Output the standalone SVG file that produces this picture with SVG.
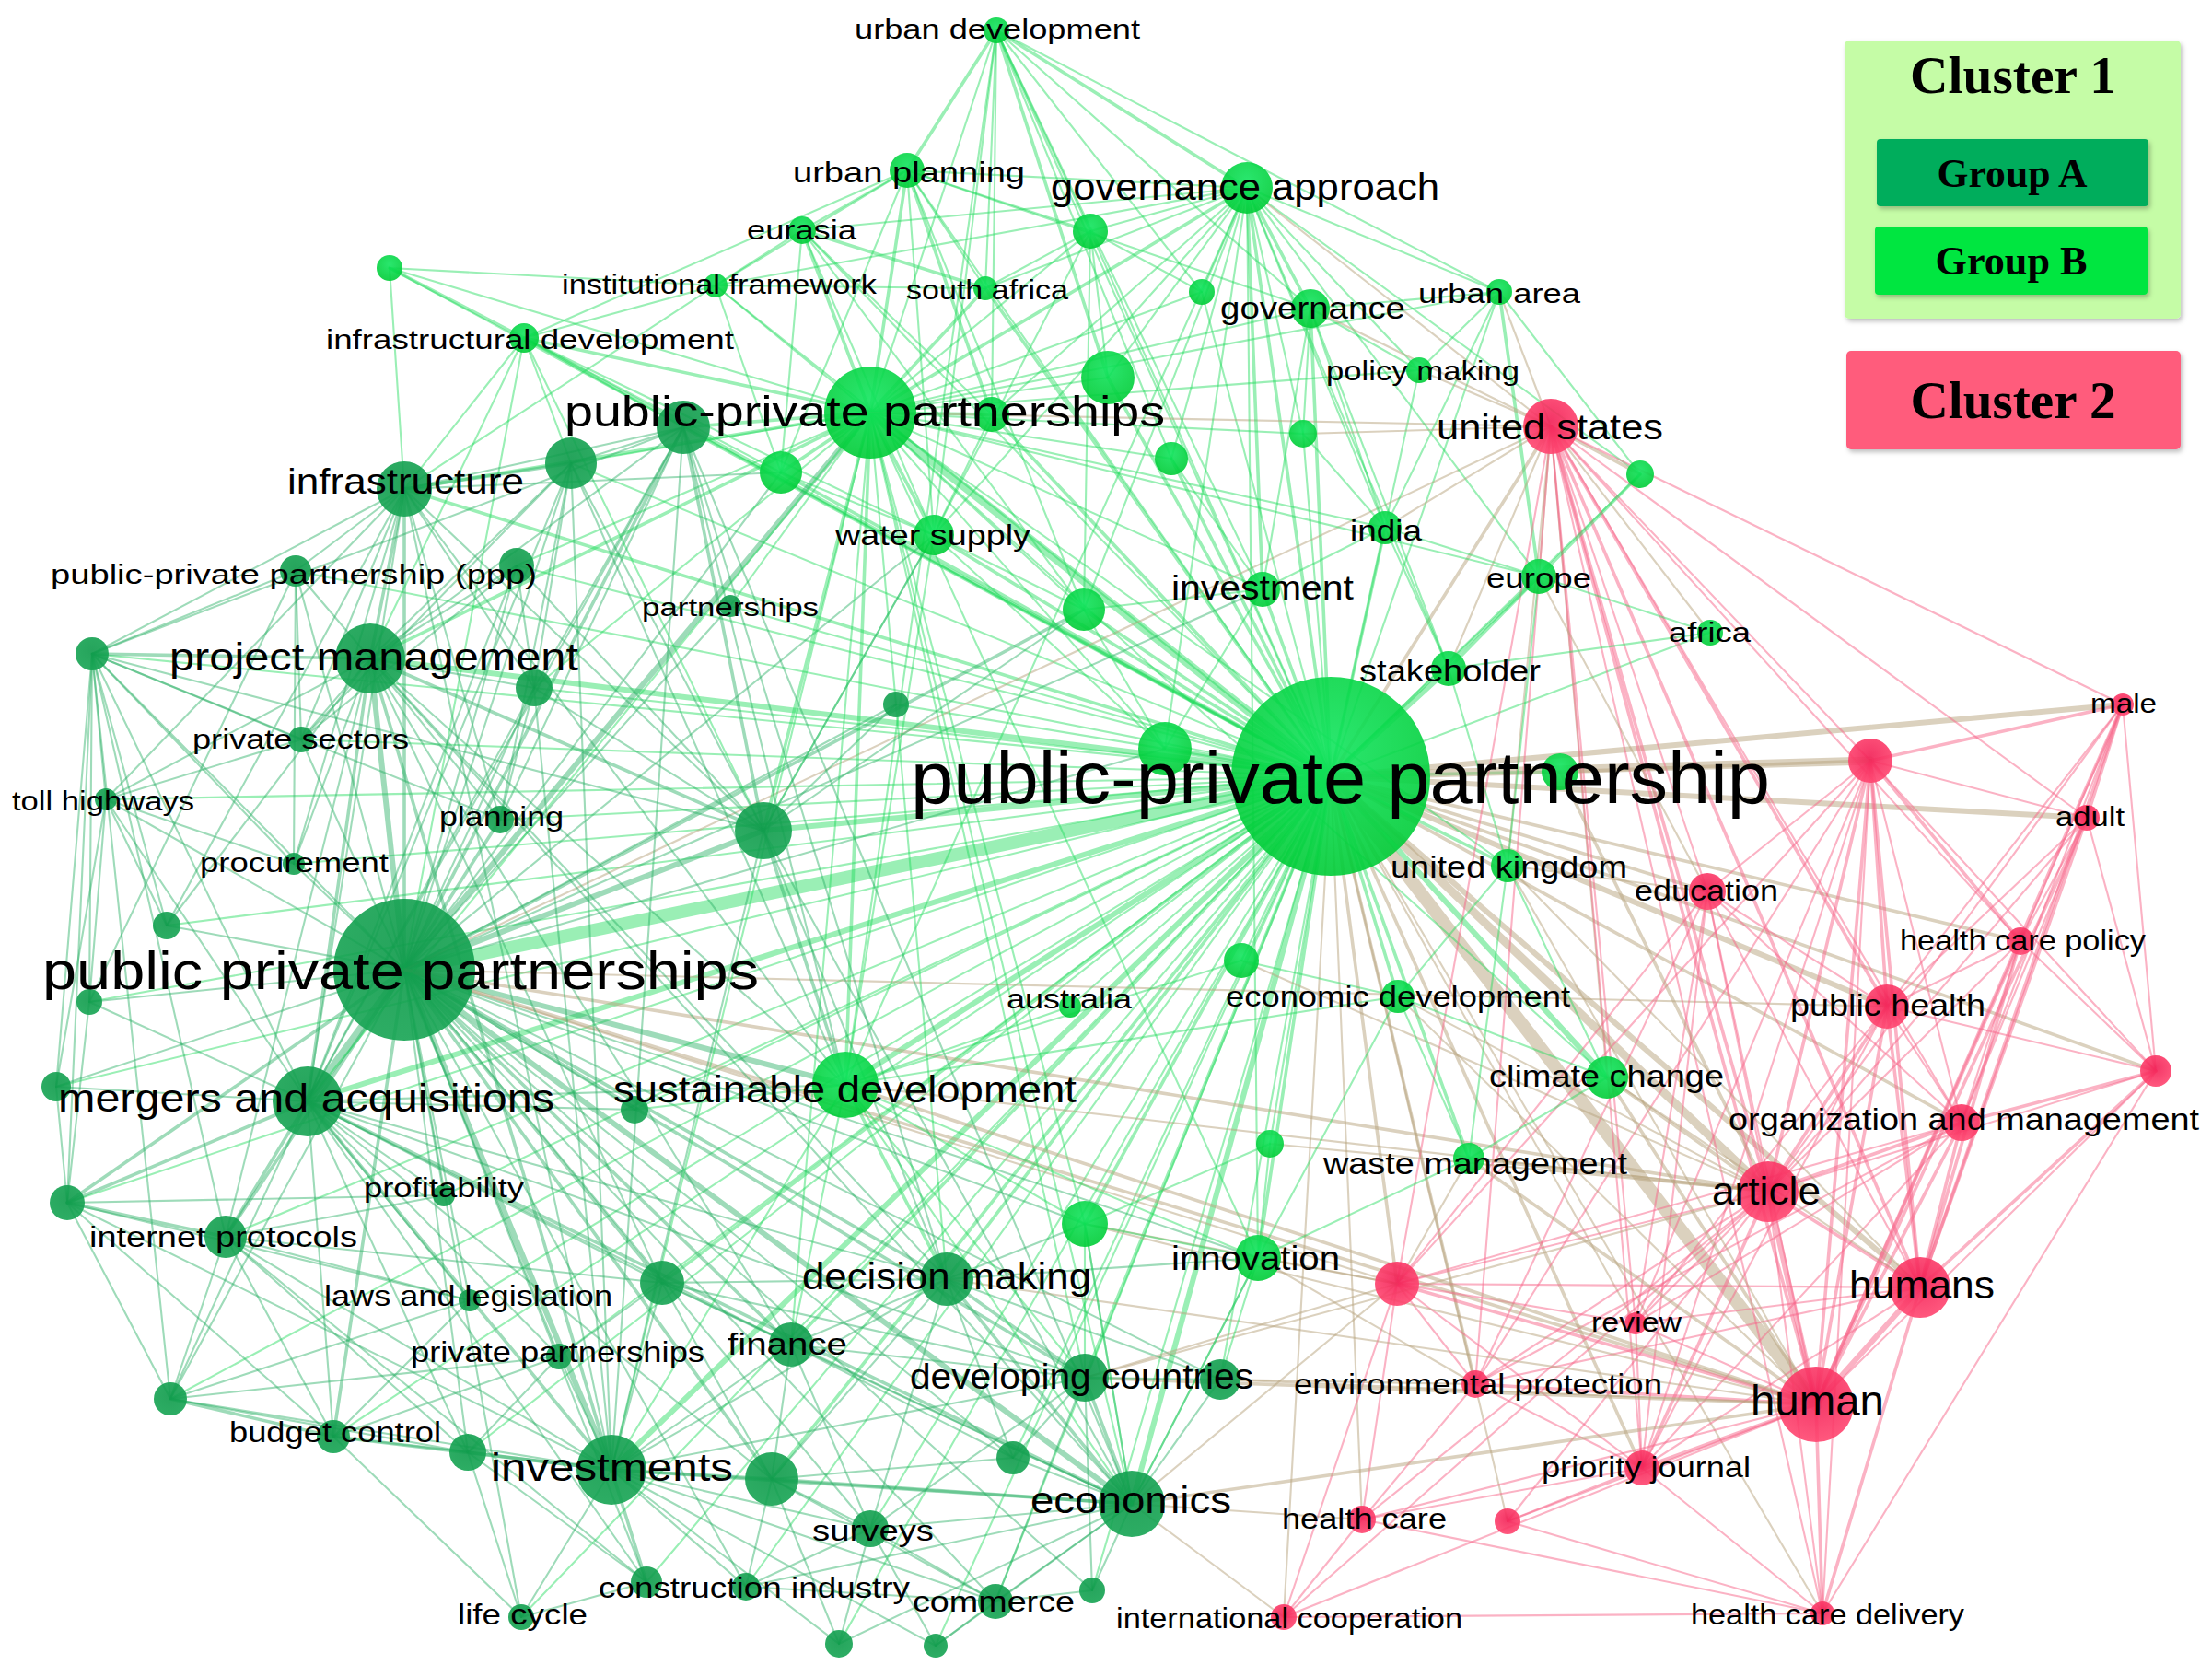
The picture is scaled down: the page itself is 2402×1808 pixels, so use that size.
<svg xmlns="http://www.w3.org/2000/svg" width="2402" height="1808" viewBox="0 0 2402 1808">
<style>
path{fill:none;stroke-linecap:round}
.g{stroke:#1edc5a;stroke-opacity:.45}
.d{stroke:#27b063;stroke-opacity:.45}
.r{stroke:#f76589;stroke-opacity:.5}
.m{stroke:#b8a47e;stroke-opacity:.5}
.w1{stroke-width:2.1}
.w2{stroke-width:3.6}
.w3{stroke-width:6}
.w4{stroke-width:9}
.w5{stroke-width:14}
.na{fill:url(#gA);fill-opacity:.9}
.nb{fill:url(#gB);fill-opacity:.9}
.nr{fill:url(#gR);fill-opacity:.9}
text{font-family:"Liberation Sans",Arial,Helvetica,sans-serif;fill:#000}
.lg{font-family:"Liberation Serif","Times New Roman",serif;font-weight:bold;text-anchor:middle}
</style>
<defs>
<radialGradient id="gA" cx="50%" cy="40%" r="60%"><stop offset="0" stop-color="#0e9a4a"/><stop offset="1" stop-color="#16a453"/></radialGradient>
<radialGradient id="gB" cx="50%" cy="35%" r="65%"><stop offset="0" stop-color="#12e45e"/><stop offset="1" stop-color="#00cc36"/></radialGradient>
<radialGradient id="gR" cx="50%" cy="40%" r="60%"><stop offset="0" stop-color="#f21f55"/><stop offset="1" stop-color="#ff4670"/></radialGradient>
<filter id="sh" x="-5%" y="-5%" width="112%" height="115%"><feDropShadow dx="2" dy="3" stdDeviation="2.5" flood-color="#000" flood-opacity=".25"/></filter>
</defs>
<rect width="2402" height="1808" fill="#fff"/>
<g id="connectors">
<path class="g w1" d="M1445 843L1082 33"/><path class="g w1" d="M1445 843L985 185"/><path class="g w2" d="M1445 843L1354 204"/><path class="g w1" d="M1445 843L871 250"/><path class="g w1" d="M1445 843L1184 251"/><path class="g w1" d="M1445 843L777 310"/><path class="g w2" d="M1445 843L1070 313"/><path class="g w1" d="M1445 843L1305 317"/><path class="g w2" d="M1445 843L1423 335"/><path class="g w1" d="M1445 843L1628 317"/><path class="g w1" d="M1445 843L423 291"/><path class="g w2" d="M1445 843L569 367"/><path class="g w1" d="M1445 843L1541 402"/><path class="g w4" d="M1445 843L945 448"/><path class="g w2" d="M1445 843L1203 410"/><path class="g w2" d="M1445 843L1077 450"/><path class="g w1" d="M1445 843L1415 471"/><path class="g w2" d="M1445 843L1272 498"/><path class="g w2" d="M1445 843L848 513"/><path class="g w2" d="M1445 843L1014 581"/><path class="g w2" d="M1445 843L1504 573"/><path class="g w1" d="M1445 843L1781 515"/><path class="g w2" d="M1445 843L1177 662"/><path class="g w2" d="M1445 843L1371 640"/><path class="g w2" d="M1445 843L1671 626"/><path class="g w1" d="M1445 843L1857 687"/><path class="g w3" d="M1445 843L1573 726"/><path class="g w3" d="M1445 843L1265 813"/><path class="g w2" d="M1445 843L1694 838"/><path class="g w2" d="M1445 843L1637 940"/><path class="g w1" d="M1445 843L1348 1043"/><path class="g w1" d="M1445 843L1162 1093"/><path class="g w2" d="M1445 843L1518 1082"/><path class="g w3" d="M1445 843L1745 1170"/><path class="g w3" d="M1445 843L918 1178"/><path class="g w1" d="M1445 843L1379 1242"/><path class="g w2" d="M1445 843L1595 1258"/><path class="g w2" d="M1445 843L1178 1329"/><path class="g w2" d="M1445 843L1366 1366"/><path class="g w1" d="M1445 843L793 658"/>
<path class="g w2" d="M1445 843L439 531"/><path class="g w1" d="M1445 843L620 503"/><path class="g w2" d="M1445 843L742 464"/><path class="g w1" d="M1445 843L321 620"/><path class="g w1" d="M1445 843L561 614"/><path class="g w1" d="M1445 843L100 710"/><path class="g w3" d="M1445 843L402 715"/><path class="g w1" d="M1445 843L580 747"/><path class="g w1" d="M1445 843L327 803"/><path class="g w1" d="M1445 843L115 868"/><path class="g w1" d="M1445 843L543 890"/><path class="g w1" d="M1445 843L319 938"/><path class="g w1" d="M1445 843L181 1005"/><path class="g w1" d="M1445 843L973 765"/><path class="g w3" d="M1445 843L829 902"/><path class="g w5" d="M1445 843L439 1053"/><path class="g w1" d="M1445 843L97 1088"/><path class="g w3" d="M1445 843L334 1196"/><path class="g w1" d="M1445 843L61 1180"/><path class="g w1" d="M1445 843L689 1205"/><path class="g w1" d="M1445 843L73 1306"/><path class="g w1" d="M1445 843L245 1343"/><path class="g w1" d="M1445 843L482 1298"/><path class="g w1" d="M1445 843L510 1412"/><path class="g w2" d="M1445 843L719 1393"/><path class="g w1" d="M1445 843L607 1473"/><path class="g w1" d="M1445 843L185 1519"/><path class="g w1" d="M1445 843L362 1560"/><path class="g w1" d="M1445 843L508 1577"/><path class="g w3" d="M1445 843L664 1596"/><path class="g w1" d="M1445 843L702 1718"/><path class="g w1" d="M1445 843L810 1723"/><path class="g w1" d="M1445 843L566 1756"/><path class="g w2" d="M1445 843L1028 1389"/><path class="g w2" d="M1445 843L859 1460"/><path class="g w2" d="M1445 843L1178 1496"/><path class="g w1" d="M1445 843L1325 1498"/><path class="g w2" d="M1445 843L838 1606"/><path class="g w1" d="M1445 843L1100 1583"/><path class="g w3" d="M1445 843L1229 1633"/><path class="g w1" d="M1445 843L945 1660"/><path class="g w1" d="M1445 843L1081 1739"/><path class="g w1" d="M1445 843L1186 1727"/><path class="g w1" d="M1445 843L911 1785"/><path class="g w1" d="M1445 843L1016 1787"/>
<path class="m w2" d="M1445 843L1684 463"/><path class="m w4" d="M1445 843L2031 826"/><path class="m w3" d="M1445 843L2305 765"/><path class="m w3" d="M1445 843L2266 888"/><path class="m w2" d="M1445 843L1854 968"/><path class="m w2" d="M1445 843L2194 1022"/><path class="m w3" d="M1445 843L2049 1093"/><path class="m w2" d="M1445 843L2341 1163"/><path class="m w2" d="M1445 843L2130 1219"/><path class="m w4" d="M1445 843L1920 1294"/><path class="m w3" d="M1445 843L2085 1398"/><path class="m w1" d="M1445 843L1776 1437"/><path class="m w2" d="M1445 843L1602 1503"/><path class="m w5" d="M1445 843L1972 1525"/><path class="m w2" d="M1445 843L1783 1594"/><path class="m w1" d="M1445 843L1637 1652"/><path class="m w1" d="M1445 843L1979 1752"/><path class="m w2" d="M1445 843L1517 1394"/><path class="m w1" d="M1445 843L1479 1650"/><path class="m w1" d="M1445 843L1394 1756"/>
<path class="d w2" d="M439 1053L439 531"/><path class="d w1" d="M439 1053L620 503"/><path class="d w2" d="M439 1053L742 464"/><path class="d w1" d="M439 1053L321 620"/><path class="d w1" d="M439 1053L561 614"/><path class="d w1" d="M439 1053L100 710"/><path class="d w3" d="M439 1053L402 715"/><path class="d w1" d="M439 1053L580 747"/><path class="d w1" d="M439 1053L327 803"/><path class="d w1" d="M439 1053L115 868"/><path class="d w2" d="M439 1053L543 890"/><path class="d w1" d="M439 1053L319 938"/><path class="d w1" d="M439 1053L181 1005"/><path class="d w1" d="M439 1053L973 765"/><path class="d w3" d="M439 1053L829 902"/><path class="d w1" d="M439 1053L97 1088"/><path class="d w4" d="M439 1053L334 1196"/><path class="d w1" d="M439 1053L61 1180"/><path class="d w1" d="M439 1053L689 1205"/><path class="d w2" d="M439 1053L73 1306"/><path class="d w2" d="M439 1053L245 1343"/><path class="d w1" d="M439 1053L482 1298"/><path class="d w1" d="M439 1053L510 1412"/><path class="d w2" d="M439 1053L719 1393"/><path class="d w1" d="M439 1053L607 1473"/><path class="d w1" d="M439 1053L185 1519"/><path class="d w2" d="M439 1053L362 1560"/><path class="d w1" d="M439 1053L508 1577"/><path class="d w3" d="M439 1053L664 1596"/><path class="d w1" d="M439 1053L702 1718"/><path class="d w1" d="M439 1053L810 1723"/><path class="d w1" d="M439 1053L566 1756"/><path class="d w2" d="M439 1053L1028 1389"/><path class="d w2" d="M439 1053L859 1460"/><path class="d w2" d="M439 1053L1178 1496"/><path class="d w1" d="M439 1053L1325 1498"/><path class="d w2" d="M439 1053L838 1606"/><path class="d w1" d="M439 1053L1100 1583"/><path class="d w3" d="M439 1053L1229 1633"/><path class="d w1" d="M439 1053L945 1660"/><path class="d w1" d="M439 1053L1081 1739"/><path class="d w1" d="M439 1053L1186 1727"/><path class="d w3" d="M439 1053L918 1178"/><path class="d w3" d="M439 1053L945 448"/><path class="d w1" d="M439 1053L848 513"/><path class="d w1" d="M439 1053L1014 581"/><path class="d w2" d="M439 1053L1177 662"/><path class="d w1" d="M439 1053L1265 813"/><path class="d w1" d="M439 1053L1371 640"/><path class="d w1" d="M439 1053L1178 1329"/><path class="d w1" d="M439 1053L1366 1366"/><path class="d w1" d="M439 1053L793 658"/>
<path class="m w1" d="M439 1053L1684 463"/><path class="m w2" d="M439 1053L1920 1294"/><path class="m w2" d="M439 1053L1972 1525"/><path class="m w1" d="M439 1053L1517 1394"/><path class="m w1" d="M439 1053L2049 1093"/>
<path class="g w1" d="M945 448L1082 33"/><path class="g w2" d="M945 448L985 185"/><path class="g w2" d="M945 448L1354 204"/><path class="g w2" d="M945 448L871 250"/><path class="g w1" d="M945 448L1184 251"/><path class="g w1" d="M945 448L777 310"/><path class="g w2" d="M945 448L1070 313"/><path class="g w1" d="M945 448L1305 317"/><path class="g w1" d="M945 448L1423 335"/><path class="g w1" d="M945 448L1628 317"/><path class="g w1" d="M945 448L423 291"/><path class="g w2" d="M945 448L569 367"/><path class="g w1" d="M945 448L1541 402"/><path class="g w1" d="M945 448L1203 410"/><path class="g w2" d="M945 448L1077 450"/><path class="g w1" d="M945 448L1415 471"/><path class="g w1" d="M945 448L1272 498"/><path class="g w2" d="M945 448L848 513"/><path class="g w2" d="M945 448L1014 581"/><path class="g w1" d="M945 448L1504 573"/><path class="g w1" d="M945 448L1371 640"/><path class="g w1" d="M945 448L1177 662"/><path class="g w2" d="M945 448L918 1178"/><path class="g w1" d="M945 448L1028 1389"/><path class="g w1" d="M945 448L1229 1633"/><path class="g w2" d="M945 448L439 531"/><path class="g w1" d="M945 448L620 503"/><path class="g w2" d="M945 448L742 464"/><path class="g w2" d="M945 448L402 715"/><path class="g w1" d="M945 448L561 614"/><path class="g w1" d="M945 448L580 747"/><path class="g w1" d="M945 448L334 1196"/><path class="g w1" d="M945 448L664 1596"/><path class="g w1" d="M945 448L859 1460"/><path class="g w1" d="M945 448L1178 1496"/><path class="g w1" d="M945 448L1637 940"/><path class="g w1" d="M945 448L1671 626"/><path class="g w2" d="M945 448L829 902"/><path class="g w1" d="M945 448L1265 813"/><path class="g w1" d="M945 448L1745 1170"/><path class="g w1" d="M945 448L1366 1366"/><path class="g w1" d="M945 448L1178 1329"/><path class="g w1" d="M945 448L793 658"/><path class="m w1" d="M945 448L1684 463"/>
<path class="g w2" d="M1354 204L1082 33"/><path class="g w1" d="M1354 204L985 185"/><path class="g w1" d="M1354 204L1184 251"/><path class="g w1" d="M1354 204L1070 313"/><path class="g w1" d="M1354 204L1305 317"/><path class="g w2" d="M1354 204L1423 335"/><path class="g w1" d="M1354 204L1628 317"/><path class="g w1" d="M1354 204L1541 402"/><path class="g w1" d="M1354 204L1203 410"/><path class="g w1" d="M1354 204L1415 471"/><path class="g w1" d="M1354 204L1272 498"/><path class="g w1" d="M1354 204L1504 573"/><path class="g w2" d="M1354 204L1371 640"/><path class="g w1" d="M1354 204L1573 726"/><path class="g w1" d="M1354 204L871 250"/><path class="g w1" d="M1354 204L777 310"/><path class="g w1" d="M1354 204L918 1178"/><path class="g w1" d="M1354 204L1177 662"/><path class="g w1" d="M1354 204L1265 813"/><path class="g w1" d="M1354 204L1671 626"/><path class="g w1" d="M1354 204L1781 515"/><path class="g w1" d="M1354 204L1366 1366"/><path class="g w1" d="M1354 204L1014 581"/><path class="g w1" d="M1354 204L1077 450"/><path class="m w1" d="M1354 204L1684 463"/>
<path class="g w2" d="M1082 33L985 185"/><path class="g w1" d="M1082 33L1184 251"/><path class="g w1" d="M1082 33L1070 313"/><path class="g w1" d="M1082 33L1077 450"/><path class="g w2" d="M1082 33L1203 410"/><path class="g w1" d="M1082 33L1423 335"/><path class="g w1" d="M1082 33L1628 317"/><path class="g w1" d="M1082 33L1272 498"/><path class="g w1" d="M1082 33L1371 640"/><path class="g w1" d="M1082 33L918 1178"/><path class="g w1" d="M1082 33L1014 581"/><path class="g w1" d="M1082 33L1305 317"/>
<path class="g w1" d="M985 185L871 250"/><path class="g w1" d="M985 185L1184 251"/><path class="g w1" d="M985 185L1070 313"/><path class="g w2" d="M985 185L1077 450"/><path class="g w1" d="M985 185L1014 581"/><path class="g w1" d="M985 185L1423 335"/><path class="g w1" d="M985 185L1177 662"/><path class="g w1" d="M985 185L848 513"/>
<path class="g w2" d="M569 367L423 291"/><path class="g w1" d="M569 367L439 531"/><path class="g w1" d="M569 367L402 715"/><path class="g w1" d="M569 367L620 503"/><path class="g w1" d="M569 367L742 464"/><path class="g w1" d="M569 367L777 310"/><path class="g w1" d="M569 367L985 185"/><path class="g w1" d="M569 367L1014 581"/><path class="g w1" d="M569 367L829 902"/><path class="g w1" d="M569 367L439 1053"/><path class="g w1" d="M569 367L848 513"/>
<path class="g w1" d="M423 291L439 531"/><path class="g w1" d="M423 291L777 310"/>
<path class="g w1" d="M777 310L871 250"/><path class="g w1" d="M777 310L985 185"/><path class="g w1" d="M777 310L439 531"/><path class="g w1" d="M777 310L848 513"/><path class="g w1" d="M777 310L1070 313"/>
<path class="g w2" d="M871 250L1070 313"/><path class="g w1" d="M871 250L1077 450"/><path class="g w1" d="M871 250L1014 581"/><path class="g w1" d="M871 250L848 513"/><path class="g w1" d="M871 250L1177 662"/>
<path class="g w1" d="M1184 251L1305 317"/><path class="g w1" d="M1184 251L1177 662"/><path class="g w1" d="M1184 251L1014 581"/><path class="g w1" d="M1184 251L1070 313"/><path class="g w1" d="M1184 251L1203 410"/>
<path class="g w1" d="M1423 335L1541 402"/><path class="g w1" d="M1423 335L1628 317"/><path class="g w1" d="M1423 335L1415 471"/><path class="g w1" d="M1423 335L1504 573"/><path class="g w1" d="M1423 335L1573 726"/><path class="g w1" d="M1423 335L1371 640"/>
<path class="g w1" d="M1628 317L1541 402"/><path class="g w1" d="M1628 317L1504 573"/><path class="g w1" d="M1628 317L1781 515"/><path class="g w2" d="M1628 317L1671 626"/>
<path class="m w1" d="M1684 463L1423 335"/><path class="m w1" d="M1684 463L1541 402"/><path class="m w1" d="M1684 463L1628 317"/><path class="m w2" d="M1684 463L1781 515"/><path class="m w1" d="M1684 463L1504 573"/><path class="m w1" d="M1684 463L1671 626"/><path class="m w1" d="M1684 463L1573 726"/><path class="m w1" d="M1684 463L1415 471"/><path class="m w1" d="M1684 463L1857 687"/><path class="m w1" d="M1684 463L1637 940"/><path class="m w1" d="M1684 463L1745 1170"/>
<path class="r w2" d="M1684 463L1920 1294"/><path class="r w2" d="M1684 463L1972 1525"/><path class="r w2" d="M1684 463L2085 1398"/><path class="r w1" d="M1684 463L2031 826"/><path class="r w1" d="M1684 463L2130 1219"/><path class="r w2" d="M1684 463L2049 1093"/><path class="r w1" d="M1684 463L1854 968"/><path class="r w1" d="M1684 463L2266 888"/><path class="r w1" d="M1684 463L2194 1022"/><path class="r w1" d="M1684 463L1783 1594"/><path class="r w1" d="M1684 463L1602 1503"/><path class="r w1" d="M1684 463L2305 765"/><path class="r w1" d="M1684 463L1776 1437"/><path class="r w1" d="M1684 463L1979 1752"/><path class="r w1" d="M1684 463L1517 1394"/>
<path class="r w2" d="M2031 826L2305 765"/><path class="r w1" d="M2031 826L2266 888"/><path class="r w1" d="M2031 826L1854 968"/><path class="r w2" d="M2031 826L2194 1022"/><path class="r w2" d="M2031 826L2049 1093"/><path class="r w1" d="M2031 826L2130 1219"/><path class="r w2" d="M2031 826L1920 1294"/><path class="r w2" d="M2031 826L2085 1398"/><path class="r w2" d="M2031 826L1972 1525"/><path class="r w1" d="M2031 826L2341 1163"/><path class="r w1" d="M2031 826L1776 1437"/><path class="r w1" d="M2031 826L1783 1594"/><path class="r w1" d="M2031 826L1602 1503"/><path class="r w1" d="M2031 826L1517 1394"/><path class="r w1" d="M2031 826L1979 1752"/>
<path class="r w2" d="M2305 765L2266 888"/><path class="r w1" d="M2305 765L2194 1022"/><path class="r w1" d="M2305 765L2049 1093"/><path class="r w1" d="M2305 765L2130 1219"/><path class="r w1" d="M2305 765L1920 1294"/><path class="r w2" d="M2305 765L2085 1398"/><path class="r w2" d="M2305 765L1972 1525"/><path class="r w1" d="M2305 765L2341 1163"/>
<path class="r w1" d="M2266 888L2194 1022"/><path class="r w1" d="M2266 888L2049 1093"/><path class="r w1" d="M2266 888L2130 1219"/><path class="r w1" d="M2266 888L1920 1294"/><path class="r w2" d="M2266 888L2085 1398"/><path class="r w2" d="M2266 888L1972 1525"/><path class="r w1" d="M2266 888L2341 1163"/>
<path class="r w1" d="M1854 968L2049 1093"/><path class="r w1" d="M1854 968L1920 1294"/><path class="r w1" d="M1854 968L2085 1398"/><path class="r w1" d="M1854 968L1972 1525"/><path class="r w1" d="M1854 968L2130 1219"/><path class="r w1" d="M1854 968L1776 1437"/><path class="r w1" d="M1854 968L1602 1503"/><path class="r w1" d="M1854 968L1783 1594"/><path class="r w1" d="M1854 968L1517 1394"/>
<path class="r w1" d="M2194 1022L2049 1093"/><path class="r w1" d="M2194 1022L2130 1219"/><path class="r w1" d="M2194 1022L1920 1294"/><path class="r w2" d="M2194 1022L2085 1398"/><path class="r w2" d="M2194 1022L1972 1525"/><path class="r w1" d="M2194 1022L2341 1163"/>
<path class="r w1" d="M2049 1093L2130 1219"/><path class="r w2" d="M2049 1093L1920 1294"/><path class="r w2" d="M2049 1093L2085 1398"/><path class="r w2" d="M2049 1093L1972 1525"/><path class="r w1" d="M2049 1093L2341 1163"/><path class="r w1" d="M2049 1093L1783 1594"/><path class="r w1" d="M2049 1093L1776 1437"/>
<path class="r w2" d="M2341 1163L2130 1219"/><path class="r w1" d="M2341 1163L1920 1294"/><path class="r w2" d="M2341 1163L2085 1398"/><path class="r w1" d="M2341 1163L1972 1525"/><path class="r w1" d="M2341 1163L1979 1752"/>
<path class="r w2" d="M2130 1219L1920 1294"/><path class="r w2" d="M2130 1219L2085 1398"/><path class="r w2" d="M2130 1219L1972 1525"/><path class="r w1" d="M2130 1219L1783 1594"/><path class="r w1" d="M2130 1219L1517 1394"/><path class="r w1" d="M2130 1219L1776 1437"/><path class="r w1" d="M2130 1219L1602 1503"/>
<path class="r w2" d="M1920 1294L2085 1398"/><path class="r w3" d="M1920 1294L1972 1525"/><path class="r w1" d="M1920 1294L1776 1437"/><path class="r w1" d="M1920 1294L1602 1503"/><path class="r w2" d="M1920 1294L1783 1594"/><path class="r w1" d="M1920 1294L1517 1394"/><path class="r w1" d="M1920 1294L1637 1652"/><path class="r w1" d="M1920 1294L1479 1650"/><path class="r w1" d="M1920 1294L1394 1756"/><path class="r w1" d="M1920 1294L1979 1752"/>
<path class="r w3" d="M2085 1398L1972 1525"/><path class="r w1" d="M2085 1398L1776 1437"/><path class="r w1" d="M2085 1398L1783 1594"/><path class="r w1" d="M2085 1398L1517 1394"/><path class="r w2" d="M2085 1398L1979 1752"/><path class="r w1" d="M2085 1398L1602 1503"/>
<path class="r w1" d="M1972 1525L1776 1437"/><path class="r w2" d="M1972 1525L1602 1503"/><path class="r w2" d="M1972 1525L1783 1594"/><path class="r w1" d="M1972 1525L1637 1652"/><path class="r w2" d="M1972 1525L1979 1752"/><path class="r w2" d="M1972 1525L1517 1394"/><path class="r w1" d="M1972 1525L1479 1650"/><path class="r w1" d="M1972 1525L1394 1756"/>
<path class="r w1" d="M1783 1594L1637 1652"/><path class="r w1" d="M1783 1594L1979 1752"/><path class="r w1" d="M1783 1594L1602 1503"/><path class="r w1" d="M1783 1594L1776 1437"/><path class="r w1" d="M1783 1594L1517 1394"/><path class="r w1" d="M1783 1594L1479 1650"/>
<path class="r w1" d="M1517 1394L1602 1503"/><path class="r w1" d="M1517 1394L1776 1437"/><path class="r w1" d="M1517 1394L1479 1650"/><path class="r w1" d="M1517 1394L1394 1756"/>
<path class="r w1" d="M1479 1650L1394 1756"/><path class="r w1" d="M1479 1650L1602 1503"/><path class="r w1" d="M1479 1650L1979 1752"/><path class="r w1" d="M1637 1652L1979 1752"/><path class="r w1" d="M1394 1756L1979 1752"/>
<path class="m w1" d="M1854 968L1637 940"/><path class="m w1" d="M1854 968L1671 626"/><path class="m w2" d="M1745 1170L1920 1294"/><path class="m w2" d="M1745 1170L1972 1525"/><path class="m w2" d="M1595 1258L1920 1294"/><path class="m w2" d="M1595 1258L1972 1525"/><path class="m w1" d="M1518 1082L1972 1525"/><path class="m w1" d="M1518 1082L1920 1294"/><path class="m w1" d="M1366 1366L1517 1394"/><path class="m w1" d="M1178 1496L1517 1394"/><path class="m w1" d="M1229 1633L1479 1650"/><path class="m w1" d="M1229 1633L1394 1756"/><path class="m w2" d="M1178 1496L1972 1525"/><path class="m w1" d="M1325 1498L1972 1525"/><path class="m w2" d="M918 1178L1972 1525"/><path class="m w1" d="M1379 1242L1920 1294"/><path class="m w1" d="M1348 1043L1920 1294"/><path class="m w1" d="M1637 940L2085 1398"/><path class="m w2" d="M1694 838L2031 826"/><path class="m w2" d="M1694 838L1920 1294"/><path class="m w1" d="M1637 940L1972 1525"/><path class="m w1" d="M1745 1170L2085 1398"/><path class="m w1" d="M1595 1258L1517 1394"/><path class="m w2" d="M1229 1633L1972 1525"/><path class="m w1" d="M1028 1389L1972 1525"/><path class="m w1" d="M1178 1496L1920 1294"/><path class="m w1" d="M1229 1633L1517 1394"/><path class="m w1" d="M1366 1366L1602 1503"/><path class="m w1" d="M1325 1498L1602 1503"/><path class="m w1" d="M918 1178L1920 1294"/><path class="m w1" d="M1178 1329L1972 1525"/><path class="m w1" d="M1178 1329L1517 1394"/>
<path class="g w1" d="M1014 581L848 513"/><path class="g w1" d="M1014 581L1177 662"/><path class="g w1" d="M1014 581L829 902"/><path class="g w1" d="M1014 581L918 1178"/><path class="g w1" d="M1014 581L1077 450"/><path class="g w1" d="M1504 573L1671 626"/><path class="g w1" d="M1504 573L1573 726"/><path class="g w1" d="M1504 573L1415 471"/><path class="g w1" d="M1671 626L1857 687"/><path class="g w2" d="M1671 626L1573 726"/><path class="g w1" d="M1671 626L1637 940"/><path class="g w2" d="M1671 626L1781 515"/><path class="g w1" d="M1573 726L1637 940"/><path class="g w1" d="M1573 726L1857 687"/><path class="g w1" d="M1371 640L1177 662"/><path class="g w1" d="M1371 640L1504 573"/><path class="g w1" d="M1371 640L1272 498"/><path class="g w1" d="M1265 813L1014 581"/><path class="g w1" d="M1265 813L1177 662"/><path class="g w1" d="M1265 813L1371 640"/><path class="g w1" d="M1637 940L1745 1170"/><path class="g w1" d="M1637 940L1518 1082"/><path class="g w1" d="M1637 940L1595 1258"/><path class="g w1" d="M1745 1170L1595 1258"/><path class="g w1" d="M1745 1170L1518 1082"/><path class="g w1" d="M1518 1082L1348 1043"/><path class="g w1" d="M1518 1082L1595 1258"/>
<path class="d w2" d="M439 531L620 503"/><path class="d w1" d="M439 531L742 464"/><path class="d w2" d="M439 531L402 715"/><path class="d w1" d="M439 531L321 620"/><path class="d w1" d="M439 531L100 710"/><path class="d w1" d="M439 531L327 803"/><path class="d w1" d="M439 531L543 890"/><path class="d w1" d="M439 531L319 938"/><path class="d w1" d="M439 531L181 1005"/><path class="d w1" d="M439 531L115 868"/><path class="d w1" d="M439 531L334 1196"/><path class="d w1" d="M439 531L829 902"/><path class="d w1" d="M439 531L664 1596"/><path class="d w1" d="M439 531L580 747"/><path class="d w1" d="M439 531L848 513"/><path class="d w1" d="M439 531L918 1178"/>
<path class="d w1" d="M620 503L742 464"/><path class="d w1" d="M620 503L402 715"/><path class="d w1" d="M620 503L580 747"/><path class="d w1" d="M620 503L543 890"/><path class="d w1" d="M620 503L829 902"/><path class="d w1" d="M620 503L334 1196"/><path class="d w1" d="M620 503L664 1596"/><path class="d w1" d="M620 503L327 803"/><path class="d w1" d="M620 503L918 1178"/>
<path class="d w1" d="M742 464L402 715"/><path class="d w1" d="M742 464L580 747"/><path class="d w2" d="M742 464L829 902"/><path class="d w1" d="M742 464L543 890"/><path class="d w1" d="M742 464L334 1196"/><path class="d w1" d="M742 464L664 1596"/><path class="d w1" d="M742 464L1028 1389"/><path class="d w1" d="M742 464L918 1178"/><path class="d w1" d="M742 464L1229 1633"/>
<path class="d w1" d="M321 620L100 710"/><path class="d w1" d="M321 620L402 715"/><path class="d w1" d="M321 620L327 803"/><path class="d w1" d="M321 620L319 938"/><path class="d w1" d="M321 620L97 1088"/>
<path class="d w1" d="M561 614L402 715"/><path class="d w1" d="M561 614L580 747"/><path class="d w1" d="M561 614L327 803"/><path class="d w1" d="M561 614L829 902"/><path class="d w1" d="M561 614L334 1196"/>
<path class="d w2" d="M100 710L402 715"/><path class="d w1" d="M100 710L327 803"/><path class="d w1" d="M100 710L115 868"/><path class="d w1" d="M100 710L319 938"/><path class="d w1" d="M100 710L543 890"/><path class="d w1" d="M100 710L181 1005"/><path class="d w1" d="M100 710L97 1088"/><path class="d w1" d="M100 710L334 1196"/><path class="d w1" d="M100 710L245 1343"/><path class="d w1" d="M100 710L73 1306"/><path class="d w1" d="M100 710L61 1180"/><path class="d w1" d="M100 710L185 1519"/><path class="d w1" d="M100 710L829 902"/><path class="d w1" d="M100 710L742 464"/>
<path class="d w1" d="M402 715L327 803"/><path class="d w1" d="M402 715L543 890"/><path class="d w1" d="M402 715L319 938"/><path class="d w1" d="M402 715L580 747"/><path class="d w2" d="M402 715L829 902"/><path class="d w2" d="M402 715L334 1196"/><path class="d w2" d="M402 715L664 1596"/><path class="d w1" d="M402 715L1028 1389"/><path class="d w1" d="M402 715L859 1460"/><path class="d w1" d="M402 715L1229 1633"/><path class="d w1" d="M402 715L181 1005"/><path class="d w1" d="M402 715L115 868"/><path class="d w1" d="M402 715L245 1343"/><path class="d w1" d="M402 715L719 1393"/><path class="d w1" d="M402 715L918 1178"/>
<path class="d w1" d="M580 747L543 890"/><path class="d w1" d="M580 747L829 902"/><path class="d w1" d="M580 747L334 1196"/><path class="d w1" d="M580 747L664 1596"/>
<path class="d w1" d="M115 868L327 803"/><path class="d w1" d="M115 868L319 938"/><path class="d w1" d="M115 868L181 1005"/><path class="d w1" d="M115 868L97 1088"/><path class="d w1" d="M115 868L334 1196"/><path class="d w1" d="M115 868L61 1180"/>
<path class="d w1" d="M334 1196L61 1180"/><path class="d w1" d="M334 1196L97 1088"/><path class="d w2" d="M334 1196L73 1306"/><path class="d w2" d="M334 1196L245 1343"/><path class="d w1" d="M334 1196L482 1298"/><path class="d w1" d="M334 1196L510 1412"/><path class="d w1" d="M334 1196L719 1393"/><path class="d w1" d="M334 1196L607 1473"/><path class="d w1" d="M334 1196L185 1519"/><path class="d w1" d="M334 1196L362 1560"/><path class="d w1" d="M334 1196L508 1577"/><path class="d w2" d="M334 1196L664 1596"/><path class="d w1" d="M334 1196L702 1718"/><path class="d w1" d="M334 1196L859 1460"/><path class="d w1" d="M334 1196L1028 1389"/><path class="d w1" d="M334 1196L1178 1496"/><path class="d w2" d="M334 1196L1229 1633"/><path class="d w1" d="M334 1196L838 1606"/><path class="d w1" d="M334 1196L918 1178"/><path class="d w1" d="M334 1196L689 1205"/>
<path class="d w2" d="M73 1306L245 1343"/><path class="d w1" d="M73 1306L185 1519"/><path class="d w1" d="M73 1306L362 1560"/><path class="d w1" d="M73 1306L61 1180"/><path class="d w1" d="M73 1306L97 1088"/><path class="d w1" d="M73 1306L510 1412"/><path class="d w1" d="M73 1306L482 1298"/><path class="d w1" d="M73 1306L664 1596"/>
<path class="d w1" d="M245 1343L482 1298"/><path class="d w1" d="M245 1343L510 1412"/><path class="d w1" d="M245 1343L185 1519"/><path class="d w1" d="M245 1343L362 1560"/><path class="d w1" d="M245 1343L508 1577"/><path class="d w1" d="M245 1343L664 1596"/><path class="d w1" d="M245 1343L719 1393"/><path class="d w1" d="M245 1343L702 1718"/>
<path class="d w2" d="M185 1519L362 1560"/><path class="d w1" d="M185 1519L664 1596"/><path class="d w1" d="M185 1519L510 1412"/><path class="d w1" d="M185 1519L508 1577"/><path class="d w1" d="M185 1519L607 1473"/>
<path class="d w1" d="M362 1560L508 1577"/><path class="d w2" d="M362 1560L664 1596"/><path class="d w1" d="M362 1560L566 1756"/><path class="d w1" d="M362 1560L510 1412"/><path class="d w1" d="M362 1560L607 1473"/>
<path class="d w2" d="M508 1577L664 1596"/><path class="d w1" d="M508 1577L566 1756"/><path class="d w1" d="M508 1577L702 1718"/><path class="d w1" d="M508 1577L607 1473"/>
<path class="d w2" d="M664 1596L702 1718"/><path class="d w1" d="M664 1596L810 1723"/><path class="d w1" d="M664 1596L566 1756"/><path class="d w1" d="M664 1596L859 1460"/><path class="d w2" d="M664 1596L838 1606"/><path class="d w1" d="M664 1596L945 1660"/><path class="d w1" d="M664 1596L1081 1739"/><path class="d w2" d="M664 1596L1229 1633"/><path class="d w1" d="M664 1596L1028 1389"/><path class="d w1" d="M664 1596L1178 1496"/><path class="d w1" d="M664 1596L719 1393"/><path class="d w1" d="M664 1596L911 1785"/><path class="d w1" d="M664 1596L1016 1787"/><path class="d w1" d="M664 1596L607 1473"/>
<path class="d w1" d="M719 1393L859 1460"/><path class="d w1" d="M719 1393L1028 1389"/><path class="d w1" d="M719 1393L607 1473"/><path class="d w1" d="M719 1393L838 1606"/><path class="d w1" d="M719 1393L1229 1633"/><path class="d w1" d="M719 1393L1178 1496"/>
<path class="d w1" d="M859 1460L1028 1389"/><path class="d w1" d="M859 1460L838 1606"/><path class="d w1" d="M859 1460L1178 1496"/><path class="d w1" d="M859 1460L1229 1633"/><path class="d w1" d="M859 1460L945 1660"/><path class="d w1" d="M859 1460L1100 1583"/>
<path class="d w2" d="M1028 1389L1178 1496"/><path class="d w2" d="M1028 1389L1229 1633"/><path class="d w1" d="M1028 1389L1100 1583"/><path class="d w1" d="M1028 1389L1325 1498"/><path class="d w1" d="M1028 1389L945 1660"/><path class="d w1" d="M1028 1389L838 1606"/><path class="d w1" d="M1028 1389L1178 1329"/><path class="d w1" d="M1028 1389L1366 1366"/>
<path class="d w2" d="M1178 1496L1229 1633"/><path class="d w1" d="M1178 1496L1325 1498"/><path class="d w1" d="M1178 1496L1100 1583"/><path class="d w1" d="M1178 1496L1081 1739"/><path class="d w1" d="M1178 1496L945 1660"/><path class="d w1" d="M1178 1496L1186 1727"/>
<path class="d w1" d="M838 1606L945 1660"/><path class="d w2" d="M838 1606L1229 1633"/><path class="d w1" d="M838 1606L1081 1739"/><path class="d w1" d="M838 1606L810 1723"/><path class="d w1" d="M838 1606L1100 1583"/><path class="d w1" d="M838 1606L911 1785"/>
<path class="d w1" d="M1229 1633L945 1660"/><path class="d w1" d="M1229 1633L1081 1739"/><path class="d w1" d="M1229 1633L1186 1727"/><path class="d w1" d="M1229 1633L1100 1583"/><path class="d w1" d="M1229 1633L911 1785"/><path class="d w1" d="M1229 1633L1016 1787"/><path class="d w1" d="M1229 1633L1325 1498"/><path class="d w1" d="M1229 1633L810 1723"/><path class="d w1" d="M1229 1633L1366 1366"/><path class="d w1" d="M1229 1633L1178 1329"/>
<path class="d w1" d="M945 1660L810 1723"/><path class="d w1" d="M945 1660L1081 1739"/><path class="d w1" d="M945 1660L911 1785"/><path class="d w1" d="M945 1660L1016 1787"/><path class="d w1" d="M1081 1739L1186 1727"/><path class="d w1" d="M1081 1739L1016 1787"/><path class="d w1" d="M1081 1739L810 1723"/><path class="d w1" d="M566 1756L702 1718"/>
<path class="d w2" d="M829 902L918 1178"/><path class="d w1" d="M829 902L1028 1389"/><path class="d w1" d="M829 902L1229 1633"/><path class="d w1" d="M829 902L664 1596"/><path class="d w1" d="M829 902L973 765"/><path class="d w1" d="M829 902L1177 662"/><path class="d w1" d="M829 902L1014 581"/>
<path class="g w2" d="M918 1178L1028 1389"/><path class="g w1" d="M918 1178L1229 1633"/><path class="g w1" d="M918 1178L1178 1496"/><path class="g w1" d="M918 1178L1178 1329"/><path class="g w1" d="M918 1178L1366 1366"/><path class="g w1" d="M918 1178L664 1596"/><path class="g w1" d="M918 1178L859 1460"/><path class="g w1" d="M918 1178L689 1205"/><path class="g w1" d="M918 1178L1348 1043"/><path class="g w1" d="M918 1178L1162 1093"/><path class="g w1" d="M918 1178L1518 1082"/>
<path class="g w1" d="M1178 1329L1366 1366"/><path class="g w1" d="M1178 1329L1178 1496"/><path class="g w1" d="M1178 1329L1229 1633"/><path class="g w1" d="M1178 1329L1379 1242"/><path class="g w1" d="M1366 1366L1379 1242"/><path class="g w1" d="M1366 1366L1518 1082"/><path class="g w1" d="M1366 1366L1595 1258"/><path class="g w1" d="M1366 1366L1325 1498"/><path class="g w1" d="M1366 1366L1229 1633"/>
</g>
<g id="nodes">
<g id="n-b5"><circle cx="1184" cy="251" r="19" class="nb"/></g>
<g id="n-b8"><circle cx="1305" cy="317" r="14" class="nb"/></g>
<g id="n-b11"><circle cx="423" cy="291" r="14" class="nb"/></g>
<g id="n-b15"><circle cx="1203" cy="410" r="29" class="nb"/></g>
<g id="n-b16"><circle cx="1077" cy="450" r="19" class="nb"/></g>
<g id="n-b17"><circle cx="1415" cy="471" r="15" class="nb"/></g>
<g id="n-b18"><circle cx="1272" cy="498" r="18" class="nb"/></g>
<g id="n-b19"><circle cx="848" cy="513" r="23" class="nb"/></g>
<g id="n-b22"><circle cx="1781" cy="515" r="15" class="nb"/></g>
<g id="n-b24"><circle cx="1177" cy="662" r="23" class="nb"/></g>
<g id="n-b30"><circle cx="1265" cy="813" r="29" class="nb"/></g>
<g id="n-b31"><circle cx="1694" cy="838" r="20" class="nb"/></g>
<g id="n-b35"><circle cx="1348" cy="1043" r="19" class="nb"/></g>
<g id="n-b40"><circle cx="1379" cy="1242" r="15" class="nb"/></g>
<g id="n-b42"><circle cx="1178" cy="1329" r="25" class="nb"/></g>
<g id="n-a45"><circle cx="620" cy="503" r="28" class="na"/></g>
<g id="n-a46"><circle cx="742" cy="464" r="29" class="na"/></g>
<g id="n-a47"><circle cx="561" cy="614" r="19" class="na"/></g>
<g id="n-a48"><circle cx="100" cy="710" r="18" class="na"/></g>
<g id="n-a50"><circle cx="580" cy="747" r="20" class="na"/></g>
<g id="n-a55"><circle cx="181" cy="1005" r="15" class="na"/></g>
<g id="n-a33"><circle cx="973" cy="765" r="14" class="na"/></g>
<g id="n-a34"><circle cx="829" cy="902" r="31" class="na"/></g>
<g id="n-a57"><circle cx="97" cy="1088" r="14" class="na"/></g>
<g id="n-a60"><circle cx="61" cy="1180" r="16" class="na"/></g>
<g id="n-a61"><circle cx="689" cy="1205" r="15" class="na"/></g>
<g id="n-a62"><circle cx="73" cy="1306" r="19" class="na"/></g>
<g id="n-a66"><circle cx="719" cy="1393" r="24" class="na"/></g>
<g id="n-a68"><circle cx="185" cy="1519" r="18" class="na"/></g>
<g id="n-a70"><circle cx="508" cy="1577" r="20" class="na"/></g>
<g id="n-a77"><circle cx="1325" cy="1498" r="22" class="na"/></g>
<g id="n-a78"><circle cx="838" cy="1606" r="29" class="na"/></g>
<g id="n-a79"><circle cx="1100" cy="1583" r="18" class="na"/></g>
<g id="n-a84"><circle cx="1186" cy="1727" r="14" class="na"/></g>
<g id="n-a85"><circle cx="911" cy="1785" r="15" class="na"/></g>
<g id="n-a86"><circle cx="1016" cy="1787" r="13" class="na"/></g>
<g id="n-ci2"><circle cx="810" cy="1723" r="15" class="na"/></g>
<g id="n-r88"><circle cx="2031" cy="826" r="24" class="nr"/></g>
<g id="n-r94"><circle cx="2341" cy="1163" r="17" class="nr"/></g>
<g id="n-r102"><circle cx="1637" cy="1652" r="14" class="nr"/></g>
<g id="n-r104"><circle cx="1517" cy="1394" r="24" class="nr"/></g>
<g id="n-urban-development"><circle cx="1082" cy="33" r="14" class="nb"/><text x="928" y="42" font-size="30" textLength="310" lengthAdjust="spacingAndGlyphs">urban development</text></g>
<g id="n-urban-planning"><circle cx="985" cy="185" r="19" class="nb"/><text x="861" y="198" font-size="32" textLength="252" lengthAdjust="spacingAndGlyphs">urban planning</text></g>
<g id="n-eurasia"><circle cx="871" cy="250" r="15" class="nb"/><text x="811" y="260" font-size="30" textLength="119" lengthAdjust="spacingAndGlyphs">eurasia</text></g>
<g id="n-institutional-framework"><circle cx="777" cy="310" r="13" class="nb"/><text x="610" y="319" font-size="30" textLength="342" lengthAdjust="spacingAndGlyphs">institutional framework</text></g>
<g id="n-south-africa"><circle cx="1070" cy="313" r="13" class="nb"/><text x="984" y="325" font-size="30" textLength="176" lengthAdjust="spacingAndGlyphs">south africa</text></g>
<g id="n-urban-area"><circle cx="1628" cy="317" r="14" class="nb"/><text x="1540" y="329" font-size="30" textLength="176" lengthAdjust="spacingAndGlyphs">urban area</text></g>
<g id="n-infrastructural-development"><circle cx="569" cy="367" r="16" class="nb"/><text x="354" y="379" font-size="30" textLength="443" lengthAdjust="spacingAndGlyphs">infrastructural development</text></g>
<g id="n-policy-making"><circle cx="1541" cy="402" r="14" class="nb"/><text x="1440" y="413" font-size="30" textLength="210" lengthAdjust="spacingAndGlyphs">policy making</text></g>
<g id="n-governance"><circle cx="1423" cy="335" r="21" class="nb"/><text x="1325" y="346" font-size="34" textLength="201" lengthAdjust="spacingAndGlyphs">governance</text></g>
<g id="n-water-supply"><circle cx="1014" cy="581" r="22" class="nb"/><text x="907" y="592" font-size="32" textLength="212" lengthAdjust="spacingAndGlyphs">water supply</text></g>
<g id="n-india"><circle cx="1504" cy="573" r="18" class="nb"/><text x="1466" y="587" font-size="32" textLength="78" lengthAdjust="spacingAndGlyphs">india</text></g>
<g id="n-ppp-abbr"><circle cx="321" cy="620" r="17" class="na"/><text x="55" y="634" font-size="30" textLength="528" lengthAdjust="spacingAndGlyphs">public-private partnership (ppp)</text></g>
<g id="n-partnerships"><circle cx="793" cy="658" r="12" class="na"/><text x="697" y="669" font-size="28" textLength="192" lengthAdjust="spacingAndGlyphs">partnerships</text></g>
<g id="n-europe"><circle cx="1671" cy="626" r="19" class="nb"/><text x="1614" y="638" font-size="30" textLength="114" lengthAdjust="spacingAndGlyphs">europe</text></g>
<g id="n-africa"><circle cx="1857" cy="687" r="14" class="nb"/><text x="1812" y="697" font-size="30" textLength="89" lengthAdjust="spacingAndGlyphs">africa</text></g>
<g id="n-stakeholder"><circle cx="1573" cy="726" r="19" class="nb"/><text x="1476" y="740" font-size="34" textLength="197" lengthAdjust="spacingAndGlyphs">stakeholder</text></g>
<g id="n-investment"><circle cx="1371" cy="640" r="19" class="nb"/><text x="1272" y="651" font-size="36" textLength="198" lengthAdjust="spacingAndGlyphs">investment</text></g>
<g id="n-private-sectors"><circle cx="327" cy="803" r="14" class="na"/><text x="209" y="813" font-size="30" textLength="235" lengthAdjust="spacingAndGlyphs">private sectors</text></g>
<g id="n-toll-highways"><circle cx="115" cy="868" r="12" class="na"/><text x="13" y="880" font-size="30" textLength="198" lengthAdjust="spacingAndGlyphs">toll highways</text></g>
<g id="n-planning"><circle cx="543" cy="890" r="15" class="na"/><text x="477" y="897" font-size="30" textLength="135" lengthAdjust="spacingAndGlyphs">planning</text></g>
<g id="n-procurement"><circle cx="319" cy="938" r="12" class="na"/><text x="217" y="947" font-size="30" textLength="205" lengthAdjust="spacingAndGlyphs">procurement</text></g>
<g id="n-united-kingdom"><circle cx="1637" cy="940" r="18" class="nb"/><text x="1510" y="953" font-size="34" textLength="257" lengthAdjust="spacingAndGlyphs">united kingdom</text></g>
<g id="n-education"><circle cx="1854" cy="968" r="20" class="nr"/><text x="1775" y="978" font-size="32" textLength="156" lengthAdjust="spacingAndGlyphs">education</text></g>
<g id="n-male"><circle cx="2305" cy="765" r="12" class="nr"/><text x="2270" y="774" font-size="30" textLength="72" lengthAdjust="spacingAndGlyphs">male</text></g>
<g id="n-adult"><circle cx="2266" cy="888" r="14" class="nr"/><text x="2232" y="897" font-size="30" textLength="75" lengthAdjust="spacingAndGlyphs">adult</text></g>
<g id="n-health-care-policy"><circle cx="2194" cy="1022" r="15" class="nr"/><text x="2063" y="1032" font-size="32" textLength="267" lengthAdjust="spacingAndGlyphs">health care policy</text></g>
<g id="n-public-health"><circle cx="2049" cy="1093" r="24" class="nr"/><text x="1944" y="1103" font-size="34" textLength="212" lengthAdjust="spacingAndGlyphs">public health</text></g>
<g id="n-australia"><circle cx="1162" cy="1093" r="12" class="nb"/><text x="1093" y="1095" font-size="30" textLength="136" lengthAdjust="spacingAndGlyphs">australia</text></g>
<g id="n-economic-development"><circle cx="1518" cy="1082" r="18" class="nb"/><text x="1331" y="1093" font-size="32" textLength="374" lengthAdjust="spacingAndGlyphs">economic development</text></g>
<g id="n-climate-change"><circle cx="1745" cy="1170" r="23" class="nb"/><text x="1617" y="1180" font-size="34" textLength="255" lengthAdjust="spacingAndGlyphs">climate change</text></g>
<g id="n-organization-and-management"><circle cx="2130" cy="1219" r="20" class="nr"/><text x="1877" y="1227" font-size="34" textLength="511" lengthAdjust="spacingAndGlyphs">organization and management</text></g>
<g id="n-waste-management"><circle cx="1595" cy="1258" r="17" class="nb"/><text x="1437" y="1275" font-size="34" textLength="330" lengthAdjust="spacingAndGlyphs">waste management</text></g>
<g id="n-profitability"><circle cx="482" cy="1298" r="12" class="na"/><text x="395" y="1300" font-size="30" textLength="174" lengthAdjust="spacingAndGlyphs">profitability</text></g>
<g id="n-internet-protocols"><circle cx="245" cy="1343" r="23" class="na"/><text x="97" y="1354" font-size="32" textLength="291" lengthAdjust="spacingAndGlyphs">internet protocols</text></g>
<g id="n-laws-and-legislation"><circle cx="510" cy="1412" r="12" class="na"/><text x="352" y="1418" font-size="32" textLength="313" lengthAdjust="spacingAndGlyphs">laws and legislation</text></g>
<g id="n-review"><circle cx="1776" cy="1437" r="12" class="nr"/><text x="1728" y="1446" font-size="30" textLength="98" lengthAdjust="spacingAndGlyphs">review</text></g>
<g id="n-finance"><circle cx="859" cy="1460" r="24" class="na"/><text x="790" y="1471" font-size="34" textLength="130" lengthAdjust="spacingAndGlyphs">finance</text></g>
<g id="n-private-partnerships"><circle cx="607" cy="1473" r="14" class="na"/><text x="446" y="1479" font-size="32" textLength="319" lengthAdjust="spacingAndGlyphs">private partnerships</text></g>
<g id="n-environmental-protection"><circle cx="1602" cy="1503" r="15" class="nr"/><text x="1405" y="1514" font-size="32" textLength="400" lengthAdjust="spacingAndGlyphs">environmental protection</text></g>
<g id="n-budget-control"><circle cx="362" cy="1560" r="18" class="na"/><text x="249" y="1566" font-size="32" textLength="230" lengthAdjust="spacingAndGlyphs">budget control</text></g>
<g id="n-priority-journal"><circle cx="1783" cy="1594" r="19" class="nr"/><text x="1674" y="1604" font-size="32" textLength="227" lengthAdjust="spacingAndGlyphs">priority journal</text></g>
<g id="n-health-care"><circle cx="1479" cy="1650" r="15" class="nr"/><text x="1392" y="1660" font-size="32" textLength="179" lengthAdjust="spacingAndGlyphs">health care</text></g>
<g id="n-surveys"><circle cx="945" cy="1660" r="20" class="na"/><text x="882" y="1673" font-size="32" textLength="132" lengthAdjust="spacingAndGlyphs">surveys</text></g>
<g id="n-construction-industry"><circle cx="702" cy="1718" r="17" class="na"/><text x="650" y="1735" font-size="32" textLength="338" lengthAdjust="spacingAndGlyphs">construction industry</text></g>
<g id="n-commerce"><circle cx="1081" cy="1739" r="19" class="na"/><text x="991" y="1750" font-size="32" textLength="176" lengthAdjust="spacingAndGlyphs">commerce</text></g>
<g id="n-life-cycle"><circle cx="566" cy="1756" r="14" class="na"/><text x="497" y="1764" font-size="32" textLength="141" lengthAdjust="spacingAndGlyphs">life cycle</text></g>
<g id="n-international-cooperation"><circle cx="1394" cy="1756" r="14" class="nr"/><text x="1212" y="1768" font-size="32" textLength="376" lengthAdjust="spacingAndGlyphs">international cooperation</text></g>
<g id="n-health-care-delivery"><circle cx="1979" cy="1752" r="13" class="nr"/><text x="1836" y="1764" font-size="32" textLength="297" lengthAdjust="spacingAndGlyphs">health care delivery</text></g>
<g id="n-innovation"><circle cx="1366" cy="1366" r="25" class="nb"/><text x="1272" y="1379" font-size="36" textLength="183" lengthAdjust="spacingAndGlyphs">innovation</text></g>
<g id="n-united-states"><circle cx="1684" cy="463" r="30" class="nr"/><text x="1560" y="477" font-size="38" textLength="246" lengthAdjust="spacingAndGlyphs">united states</text></g>
<g id="n-infrastructure"><circle cx="439" cy="531" r="30" class="na"/><text x="312" y="536" font-size="38" textLength="257" lengthAdjust="spacingAndGlyphs">infrastructure</text></g>
<g id="n-developing-countries"><circle cx="1178" cy="1496" r="26" class="na"/><text x="988" y="1508" font-size="38" textLength="373" lengthAdjust="spacingAndGlyphs">developing countries</text></g>
<g id="n-governance-approach"><circle cx="1354" cy="204" r="28" class="nb"/><text x="1141" y="217" font-size="40" textLength="422" lengthAdjust="spacingAndGlyphs">governance approach</text></g>
<g id="n-decision-making"><circle cx="1028" cy="1389" r="29" class="na"/><text x="871" y="1400" font-size="40" textLength="314" lengthAdjust="spacingAndGlyphs">decision making</text></g>
<g id="n-economics"><circle cx="1229" cy="1633" r="36" class="na"/><text x="1119" y="1643" font-size="40" textLength="218" lengthAdjust="spacingAndGlyphs">economics</text></g>
<g id="n-article"><circle cx="1920" cy="1294" r="33" class="nr"/><text x="1859" y="1308" font-size="42" textLength="118" lengthAdjust="spacingAndGlyphs">article</text></g>
<g id="n-humans"><circle cx="2085" cy="1398" r="33" class="nr"/><text x="2008" y="1410" font-size="42" textLength="158" lengthAdjust="spacingAndGlyphs">humans</text></g>
<g id="n-human"><circle cx="1972" cy="1525" r="41" class="nr"/><text x="1901" y="1537" font-size="46" textLength="145" lengthAdjust="spacingAndGlyphs">human</text></g>
<g id="n-investments"><circle cx="664" cy="1596" r="38" class="na"/><text x="533" y="1608" font-size="42" textLength="263" lengthAdjust="spacingAndGlyphs">investments</text></g>
<g id="n-project-management"><circle cx="402" cy="715" r="38" class="na"/><text x="184" y="728" font-size="42" textLength="444" lengthAdjust="spacingAndGlyphs">project management</text></g>
<g id="n-mergers-and-acquisitions"><circle cx="334" cy="1196" r="38" class="na"/><text x="63" y="1207" font-size="42" textLength="539" lengthAdjust="spacingAndGlyphs">mergers and acquisitions</text></g>
<g id="n-sustainable-development"><circle cx="918" cy="1178" r="36" class="nb"/><text x="666" y="1197" font-size="40" textLength="503" lengthAdjust="spacingAndGlyphs">sustainable development</text></g>
<g id="n-public-private-partnerships"><circle cx="945" cy="448" r="50" class="nb"/><text x="613" y="463" font-size="46" textLength="652" lengthAdjust="spacingAndGlyphs">public-private partnerships</text></g>
<g id="n-public-private-partnerships-nohyphen"><circle cx="439" cy="1053" r="77" class="na"/><text x="46" y="1074" font-size="58" textLength="778" lengthAdjust="spacingAndGlyphs">public private partnerships</text></g>
<g id="n-public-private-partnership"><circle cx="1445" cy="843" r="108" class="nb"/><text x="989" y="872" font-size="80" textLength="933" lengthAdjust="spacingAndGlyphs">public-private partnership</text></g>
</g>
<g id="legend">
<rect x="2003" y="44" width="365" height="302" rx="5" fill="#c5fca6" filter="url(#sh)"/>
<text class="lg" x="2186" y="101" font-size="56" textLength="224" lengthAdjust="spacingAndGlyphs">Cluster 1</text>
<rect x="2038" y="151" width="295" height="73" rx="4" fill="#00ad5b" filter="url(#sh)"/>
<text class="lg" x="2185" y="203" font-size="44" textLength="163" lengthAdjust="spacingAndGlyphs">Group A</text>
<rect x="2036" y="246" width="296" height="74" rx="4" fill="#00e63f" filter="url(#sh)"/>
<text class="lg" x="2184" y="298" font-size="44" textLength="165" lengthAdjust="spacingAndGlyphs">Group B</text>
<rect x="2005" y="381" width="363" height="107" rx="5" fill="#ff5c7c" filter="url(#sh)"/>
<text class="lg" x="2186" y="454" font-size="56" textLength="223" lengthAdjust="spacingAndGlyphs">Cluster 2</text>
</g>
</svg>
